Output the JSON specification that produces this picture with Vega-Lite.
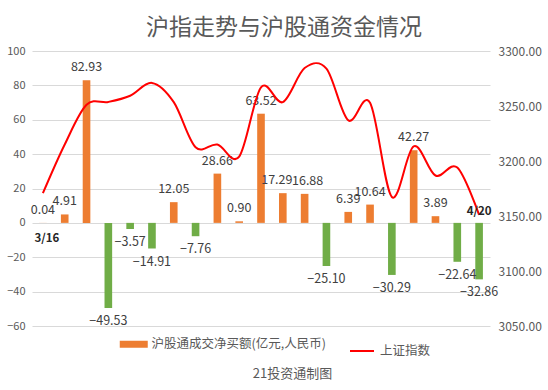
{
  "$schema": "https://vega.github.io/schema/vega-lite/v6.json",
  "width": 458,
  "height": 275,
  "autosize": "none",
  "padding": {"left": 32, "top": 51, "right": 58, "bottom": 64},
  "background": "white",
  "config": {
    "font": "Noto Sans CJK SC",
    "view": {"stroke": null}
  },
  "title": {
    "text": "沪指走势与沪股通资金情况",
    "fontSize": 23,
    "fontWeight": "normal",
    "color": "#595959",
    "anchor": "middle",
    "dx": 23,
    "dy": 26,
    "baseline": "bottom",
    "offset": 8
  },
  "data": {
    "values": [
      {"d": "3/16", "v": 0.04, "close": 3170.7},
      {"d": "3/17", "v": 4.91, "close": 3215.0},
      {"d": "3/18", "v": 82.93, "close": 3251.1},
      {"d": "3/21", "v": -49.53, "close": 3253.7},
      {"d": "3/22", "v": -3.57, "close": 3259.3},
      {"d": "3/23", "v": -14.91, "close": 3271.0},
      {"d": "3/24", "v": 12.05, "close": 3253.5},
      {"d": "3/25", "v": -7.76, "close": 3212.5},
      {"d": "3/28", "v": 28.66, "close": 3215.0},
      {"d": "3/29", "v": 0.90, "close": 3204.0},
      {"d": "3/30", "v": 63.52, "close": 3267.0},
      {"d": "3/31", "v": 17.29, "close": 3253.5},
      {"d": "4/1", "v": 16.88, "close": 3284.5},
      {"d": "4/6", "v": -25.10, "close": 3284.0},
      {"d": "4/7", "v": 6.39, "close": 3237.0},
      {"d": "4/8", "v": 10.64, "close": 3253.0},
      {"d": "4/11", "v": -30.29, "close": 3167.3},
      {"d": "4/12", "v": 42.27, "close": 3213.3},
      {"d": "4/13", "v": 3.89, "close": 3186.8},
      {"d": "4/19", "v": -22.64, "close": 3194.0},
      {"d": "4/20", "v": -32.86, "close": 3151.0}
    ]
  },
  "encoding": {
    "x": {
      "field": "d",
      "type": "nominal",
      "sort": null,
      "scale": {"paddingInner": 0.65, "paddingOuter": 0.325},
      "axis": {
        "labels": false,
        "ticks": false,
        "domain": false,
        "grid": false,
        "title": "21投资通制图",
        "titleFontSize": 13,
        "titleFontWeight": "normal",
        "titleColor": "#595959",
        "titleX": 260,
        "titleY": 47,
        "titleAlign": "center",
        "titleBaseline": "middle",
        "titleAnchor": null
      }
    }
  },
  "layer": [
    {
      "encoding": {
        "y": {
          "field": "v",
          "type": "quantitative",
          "scale": {"domain": [-60, 100], "nice": false, "zero": false},
          "axis": {
            "title": null,
            "values": [-60, -40, -20, 0, 20, 40, 60, 80, 100],
            "grid": true,
            "gridColor": "#D9D9D9",
            "domain": false,
            "ticks": false,
            "labelColor": "#595959",
            "labelFontSize": 11,
            "labelPadding": 7
          }
        }
      },
      "layer": [
        {
          "mark": {"type": "bar"},
          "encoding": {
            "color": {
              "condition": {"test": "datum.v < 0", "value": "#70AD47"},
              "datum": "沪股通成交净买额(亿元,人民币)",
              "type": "nominal",
              "scale": {"range": ["#ED7D31"]},
              "legend": {
                "title": null,
                "orient": "none",
                "legendX": 95.5,
                "legendY": 287,
                "direction": "horizontal",
                "padding": 0,
                "symbolType": "M-4,-1H4V1H-4Z",
                "symbolSize": 49,
                "symbolStrokeWidth": 0,
                "labelOffset": 11.5,
                "labelFontSize": 12.5,
                "labelColor": "#595959",
                "labelLimit": 300
              }
            }
          }
        },
        {
          "transform": [{"filter": "datum.v >= 0 && datum.d != '3/31' && datum.d != '4/1'"}],
          "mark": {"type": "text", "dy": -13, "fontSize": 12.5, "color": "#404040", "baseline": "middle"},
          "encoding": {"text": {"field": "v", "type": "quantitative", "format": ".2f"}}
        },
        {
          "transform": [{"filter": "datum.d == '3/31'"}],
          "mark": {"type": "text", "dy": -13, "dx": -6, "fontSize": 12.5, "color": "#404040", "baseline": "middle"},
          "encoding": {"text": {"field": "v", "type": "quantitative", "format": ".2f"}}
        },
        {
          "transform": [{"filter": "datum.d == '4/1'"}],
          "mark": {"type": "text", "dy": -13, "dx": 3, "fontSize": 12.5, "color": "#404040", "baseline": "middle"},
          "encoding": {"text": {"field": "v", "type": "quantitative", "format": ".2f"}}
        },
        {
          "transform": [{"filter": "datum.v < 0"}],
          "mark": {"type": "text", "dy": 13, "fontSize": 12.5, "color": "#404040", "baseline": "middle"},
          "encoding": {"text": {"field": "v", "type": "quantitative", "format": ".2f"}}
        }
      ]
    },
    {
      "encoding": {
        "y": {
          "field": "close",
          "type": "quantitative",
          "scale": {"domain": [3050, 3300], "nice": false, "zero": false},
          "axis": {
            "orient": "right",
            "title": null,
            "values": [3050, 3100, 3150, 3200, 3250, 3300],
            "format": ".2f",
            "grid": false,
            "domain": false,
            "ticks": false,
            "labelColor": "#595959",
            "labelFontSize": 12,
            "labelPadding": 8
          }
        }
      },
      "layer": [
        {
          "mark": {"type": "line", "interpolate": "cardinal", "strokeWidth": 2},
          "encoding": {
            "stroke": {
              "datum": "上证指数",
              "type": "nominal",
              "scale": {"range": ["#FF0000"]},
              "legend": {
                "title": null,
                "orient": "none",
                "legendX": 317,
                "legendY": 287,
                "direction": "horizontal",
                "padding": 0,
                "symbolType": "stroke",
                "symbolSize": 576,
                "symbolStrokeWidth": 2,
                "labelOffset": 5,
                "labelFontSize": 12.5,
                "labelColor": "#595959"
              }
            }
          }
        },
        {
          "transform": [{"filter": "datum.d == '3/16'"}],
          "mark": {"type": "text", "dy": 46, "dx": 4, "fontSize": 11.5, "fontWeight": "bold", "color": "#262626", "baseline": "middle"},
          "encoding": {"text": {"field": "d", "type": "nominal"}}
        },
        {
          "transform": [{"filter": "datum.d == '4/20'"}],
          "mark": {"type": "text", "dy": -3, "fontSize": 11.5, "fontWeight": "bold", "color": "#262626", "baseline": "middle"},
          "encoding": {"text": {"field": "d", "type": "nominal"}}
        }
      ]
    }
  ],
  "resolve": {"scale": {"y": "independent"}}
}
